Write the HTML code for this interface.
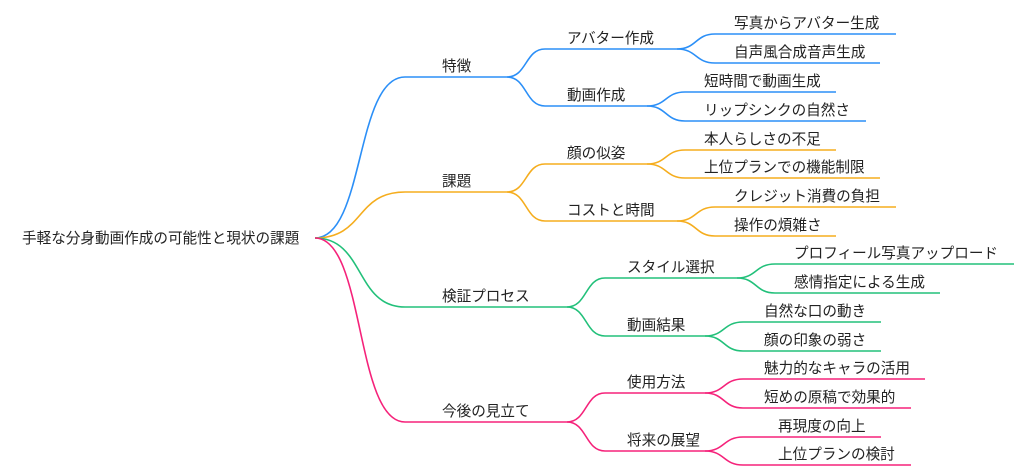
<!DOCTYPE html>
<html><head><meta charset="utf-8"><style>
html,body{margin:0;padding:0;background:#fff;}
svg{display:block}
text{font-family:"Liberation Sans","Noto Sans CJK JP",sans-serif;font-size:14.6px;fill:#222;}
path{fill:none;stroke-width:1.6;}
</style></head><body>
<svg width="1024" height="475" viewBox="0 0 1024 475">
<text x="22" y="243">手軽な分身動画作成の可能性と現状の課題</text>
<!-- blue -->
<g stroke="#2b8ff7">
<path d="M315 238 C365 238,355 77,405 77 H507"/>
<path d="M507 77 C527 77,525 49,545 49 H677"/>
<path d="M507 77 C527 77,525 106,545 106 H647"/>
<path d="M677 49 C697 49,695 34,715 34 H896"/>
<path d="M677 49 C697 49,695 63,715 63 H880"/>
<path d="M647 106 C667 106,665 92,685 92 H836"/>
<path d="M647 106 C667 106,665 121,685 121 H866"/>
</g>
<!-- orange -->
<g stroke="#f5ad1e">
<path d="M315 238 C365 238,355 192,405 192 H507"/>
<path d="M507 192 C527 192,525 164,545 164 H647"/>
<path d="M507 192 C527 192,525 221,545 221 H677"/>
<path d="M647 164 C667 164,665 150,685 150 H836"/>
<path d="M647 164 C667 164,665 178,685 178 H880"/>
<path d="M677 221 C697 221,695 207,715 207 H896"/>
<path d="M677 221 C697 221,695 236,715 236 H836"/>
</g>
<!-- green -->
<g stroke="#22c07a">
<path d="M315 238 C365 238,355 307,405 307 H567"/>
<path d="M567 307 C587 307,585 278,605 278 H737"/>
<path d="M567 307 C587 307,585 336,605 336 H705"/>
<path d="M737 278 C757 278,755 264,775 264 H1014"/>
<path d="M737 278 C757 278,755 293,775 293 H940"/>
<path d="M705 336 C725 336,723 322,743 322 H881"/>
<path d="M705 336 C725 336,723 351,743 351 H881"/>
</g>
<!-- pink -->
<g stroke="#f5227a">
<path d="M315 238 C365 238,355 422,405 422 H567"/>
<path d="M567 422 C587 422,585 393,605 393 H705"/>
<path d="M567 422 C587 422,585 451,605 451 H705"/>
<path d="M705 393 C725 393,723 379,743 379 H925"/>
<path d="M705 393 C725 393,723 408,743 408 H911"/>
<path d="M705 451 C725 451,723 437,743 437 H881"/>
<path d="M705 451 C725 451,723 465,743 465 H911"/>
</g>
<text x="442" y="71">特徴</text>
<text x="442" y="186">課題</text>
<text x="442" y="301">検証プロセス</text>
<text x="442" y="416">今後の見立て</text>
<text x="567" y="43">アバター作成</text>
<text x="567" y="100">動画作成</text>
<text x="567" y="158">顔の似姿</text>
<text x="567" y="215">コストと時間</text>
<text x="627" y="272">スタイル選択</text>
<text x="627" y="330">動画結果</text>
<text x="627" y="387">使用方法</text>
<text x="627" y="445">将来の展望</text>
<text x="734" y="28">写真からアバター生成</text>
<text x="734" y="57">自声風合成音声生成</text>
<text x="704" y="86">短時間で動画生成</text>
<text x="704" y="115">リップシンクの自然さ</text>
<text x="704" y="144">本人らしさの不足</text>
<text x="704" y="172">上位プランでの機能制限</text>
<text x="734" y="201">クレジット消費の負担</text>
<text x="734" y="230">操作の煩雑さ</text>
<text x="794" y="258">プロフィール写真アップロード</text>
<text x="794" y="287">感情指定による生成</text>
<text x="764" y="316">自然な口の動き</text>
<text x="764" y="345">顔の印象の弱さ</text>
<text x="764" y="373">魅力的なキャラの活用</text>
<text x="764" y="402">短めの原稿で効果的</text>
<text x="778" y="431">再現度の向上</text>
<text x="778" y="459">上位プランの検討</text>
</svg>
</body></html>
